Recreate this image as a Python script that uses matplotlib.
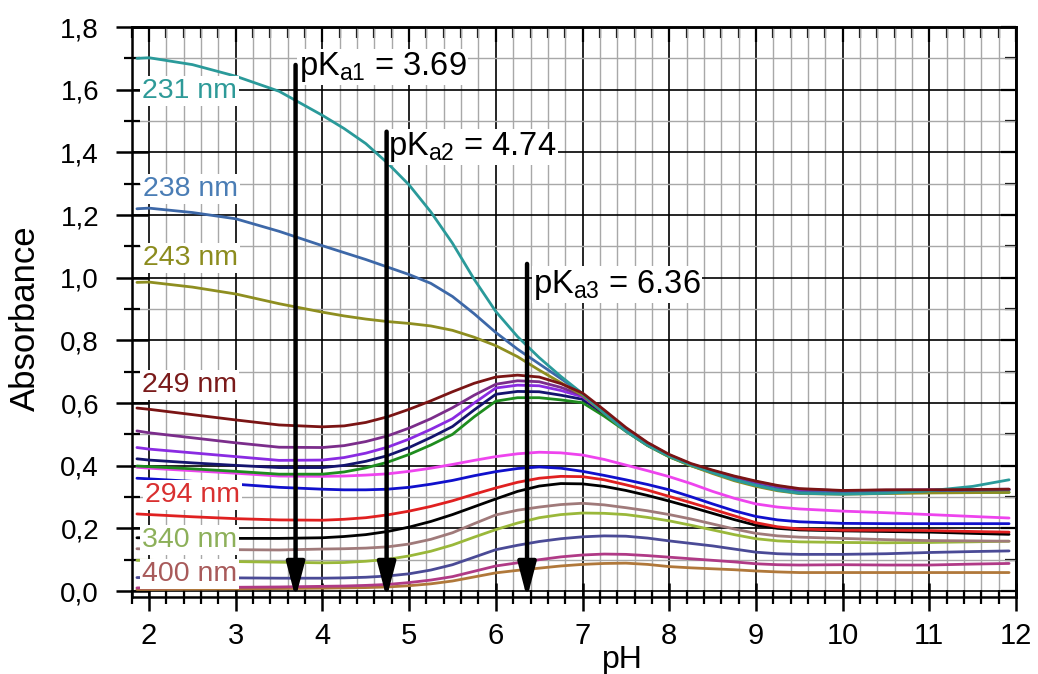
import matplotlib
matplotlib.use("Agg")
import matplotlib.pyplot as plt
from matplotlib.ticker import MultipleLocator, FuncFormatter

# pH values at which the absorbance was sampled
ph = [1.86, 2.0, 2.5, 3.0, 3.5, 4.0, 4.25, 4.5, 4.75, 5.0, 5.25, 5.5, 5.75, 6.0, 6.25, 6.5, 6.75,
      7.0, 7.25, 7.5, 7.75, 8.0, 8.25, 8.5, 8.75, 9.0, 9.25, 9.5, 10.0, 10.5, 11.0, 11.5, 11.92]

# absorbance at each wavelength (top to bottom)
a231 = [1.700, 1.702, 1.680, 1.643, 1.595, 1.518, 1.476, 1.428, 1.366, 1.296, 1.210, 1.110, 0.995,
        0.892, 0.812, 0.745, 0.685, 0.630, 0.568, 0.510, 0.465, 0.430, 0.402, 0.378, 0.355, 0.337,
        0.322, 0.312, 0.309, 0.312, 0.320, 0.334, 0.355]
a238 = [1.220, 1.222, 1.208, 1.188, 1.148, 1.102, 1.080, 1.058, 1.034, 1.010, 0.982, 0.940, 0.885,
        0.825, 0.772, 0.725, 0.678, 0.630, 0.570, 0.513, 0.468, 0.432, 0.404, 0.379, 0.357, 0.339,
        0.325, 0.315, 0.313, 0.316, 0.320, 0.322, 0.323]
a243 = [0.985, 0.986, 0.970, 0.948, 0.917, 0.890, 0.878, 0.868, 0.860, 0.854, 0.846, 0.832, 0.810,
        0.783, 0.748, 0.705, 0.665, 0.625, 0.567, 0.510, 0.465, 0.429, 0.400, 0.375, 0.352, 0.334,
        0.320, 0.311, 0.309, 0.311, 0.313, 0.314, 0.315]
a249 = [0.584, 0.580, 0.563, 0.546, 0.530, 0.524, 0.527, 0.538, 0.556, 0.580, 0.607, 0.636, 0.663,
        0.683, 0.689, 0.683, 0.662, 0.632, 0.578, 0.522, 0.474, 0.436, 0.407, 0.386, 0.367, 0.351,
        0.337, 0.327, 0.321, 0.323, 0.323, 0.324, 0.325]
a_purple = [0.511, 0.505, 0.489, 0.473, 0.459, 0.458, 0.464, 0.477, 0.495, 0.520, 0.550, 0.585, 0.625,
            0.660, 0.671, 0.668, 0.650, 0.625, 0.574, 0.519, 0.472, 0.434, 0.405, 0.384, 0.365, 0.349,
            0.335, 0.325, 0.320, 0.322, 0.323, 0.324, 0.325]
a_violet = [0.458, 0.453, 0.441, 0.429, 0.417, 0.418, 0.426, 0.440, 0.459, 0.485, 0.516, 0.550, 0.600,
            0.648, 0.657, 0.655, 0.640, 0.620, 0.571, 0.517, 0.470, 0.433, 0.404, 0.383, 0.364, 0.347,
            0.333, 0.323, 0.319, 0.321, 0.322, 0.323, 0.324]
a_navy = [0.422, 0.418, 0.409, 0.401, 0.394, 0.394, 0.401, 0.414, 0.432, 0.458, 0.490, 0.525, 0.578,
          0.628, 0.637, 0.636, 0.625, 0.612, 0.566, 0.515, 0.468, 0.432, 0.403, 0.382, 0.362, 0.345,
          0.331, 0.321, 0.318, 0.320, 0.321, 0.322, 0.324]
a_green = [0.399, 0.397, 0.390, 0.382, 0.373, 0.373, 0.380, 0.393, 0.411, 0.436, 0.466, 0.500, 0.556,
           0.606, 0.617, 0.617, 0.610, 0.601, 0.558, 0.510, 0.464, 0.428, 0.400, 0.378, 0.358, 0.341,
           0.327, 0.318, 0.315, 0.315, 0.315, 0.315, 0.315]
a_magenta = [0.395, 0.392, 0.384, 0.376, 0.367, 0.366, 0.367, 0.370, 0.374, 0.382, 0.392, 0.404, 0.417,
             0.429, 0.438, 0.443, 0.441, 0.434, 0.420, 0.402, 0.384, 0.365, 0.343, 0.318, 0.296, 0.278,
             0.268, 0.262, 0.255, 0.250, 0.244, 0.238, 0.233]
a_blue = [0.360, 0.358, 0.350, 0.341, 0.331, 0.325, 0.323, 0.323, 0.325, 0.331, 0.341, 0.353, 0.368,
          0.381, 0.391, 0.396, 0.392, 0.382, 0.369, 0.355, 0.340, 0.323, 0.301, 0.278, 0.256, 0.238,
          0.227, 0.221, 0.216, 0.215, 0.215, 0.215, 0.215]
a294 = [0.246, 0.244, 0.237, 0.231, 0.227, 0.226, 0.229, 0.234, 0.243, 0.255, 0.270, 0.288, 0.309,
        0.329, 0.347, 0.360, 0.366, 0.365, 0.355, 0.339, 0.322, 0.302, 0.282, 0.261, 0.240, 0.218,
        0.205, 0.198, 0.194, 0.194, 0.193, 0.190, 0.188]
a_black = [0.170, 0.170, 0.169, 0.168, 0.168, 0.170, 0.174, 0.180, 0.190, 0.204, 0.222, 0.244, 0.269,
           0.294, 0.318, 0.335, 0.343, 0.342, 0.334, 0.321, 0.305, 0.287, 0.268, 0.248, 0.228, 0.210,
           0.200, 0.195, 0.192, 0.190, 0.188, 0.184, 0.181]
a_mauve = [0.135, 0.134, 0.133, 0.132, 0.131, 0.134, 0.135, 0.137, 0.141, 0.150, 0.165, 0.186, 0.215,
           0.243, 0.258, 0.268, 0.276, 0.280, 0.275, 0.266, 0.256, 0.244, 0.230, 0.214, 0.198, 0.184,
           0.176, 0.172, 0.168, 0.164, 0.161, 0.160, 0.159]
a340 = [0.098, 0.098, 0.096, 0.094, 0.092, 0.090, 0.091, 0.095, 0.101, 0.112, 0.127, 0.147, 0.172,
        0.196, 0.217, 0.234, 0.244, 0.249, 0.248, 0.244, 0.235, 0.224, 0.210, 0.195, 0.180, 0.167,
        0.160, 0.157, 0.155, 0.154, 0.155, 0.157, 0.159]
a_slate = [0.043, 0.043, 0.043, 0.042, 0.041, 0.041, 0.042, 0.044, 0.048, 0.055, 0.067, 0.084, 0.108,
           0.132, 0.146, 0.158, 0.167, 0.173, 0.176, 0.175, 0.169, 0.160, 0.152, 0.144, 0.134, 0.124,
           0.119, 0.117, 0.117, 0.119, 0.123, 0.126, 0.128]
a_plum = [0.010, 0.010, 0.011, 0.012, 0.013, 0.015, 0.016, 0.018, 0.021, 0.027, 0.035, 0.046, 0.063,
          0.080, 0.090, 0.100, 0.109, 0.115, 0.118, 0.117, 0.113, 0.108, 0.103, 0.098, 0.093, 0.087,
          0.084, 0.083, 0.084, 0.083, 0.083, 0.086, 0.088]
a400 = [0.005, 0.005, 0.006, 0.007, 0.008, 0.009, 0.010, 0.011, 0.013, 0.017, 0.023, 0.032, 0.045,
        0.058, 0.066, 0.073, 0.080, 0.085, 0.088, 0.089, 0.085, 0.078, 0.074, 0.071, 0.068, 0.064,
        0.061, 0.059, 0.059, 0.059, 0.059, 0.059, 0.059]

series = [a400, a_plum, a_slate, a340, a_mauve, a_black, a294, a_blue, a_magenta,
          a_green, a_navy, a_violet, a_purple, a243, a238, a231, a249]
colors = ["#b0783a", "#b03a86", "#4a4a96", "#9ab83a", "#a07a7a", "#000000", "#e02020", "#1010cc",
          "#ee44ee", "#1e8c1e", "#14146e", "#8a2be2", "#7b2d8b", "#8e8e20", "#3d68a8", "#2a9a9a",
          "#7a1414"]

# wavelength labels
wl_labels = ["231 nm", "238 nm", "243 nm", "249 nm", "294 nm", "340 nm", "400 nm"]
wl_colors = ["#2e9a98", "#4a7db5", "#8c8c1e", "#7a1a1a", "#d93030", "#8db05a", "#a85a5a"]
wl_pos = [(1.915, 1.597), (1.935, 1.283), (1.935, 1.064), (1.915, 0.657),
          (1.955, 0.307), (1.915, 0.164), (1.915, 0.055)]

# acid dissociation constants
pka = [3.69, 4.74, 6.36]
arrow_tops = [1.679, 1.466, 1.044]
text_pos = [(3.725, 1.647), (4.76, 1.392), (6.43, 0.952)]

NARROW = ["Liberation Sans Narrow", "Liberation Sans", "DejaVu Sans"]
REGULAR = ["Liberation Sans", "DejaVu Sans"]
plt.rcParams["font.family"] = REGULAR
plt.rcParams["mathtext.fontset"] = "custom"
plt.rcParams["mathtext.rm"] = "Liberation Sans"

fig = plt.figure(figsize=(10.38, 6.74), dpi=100)
ax = fig.add_axes([0.1269, 0.1138, 0.8519, 0.8461])

for y, c in zip(series, colors):
    ax.plot(ph, y, color=c, lw=2.0, solid_joinstyle="round", solid_capstyle="round", zorder=3)

ax.set_xlim(1.8, 12.0)
ax.set_ylim(-0.02, 1.8)

ax.xaxis.set_major_locator(MultipleLocator(1))
ax.xaxis.set_minor_locator(MultipleLocator(0.2))
ax.yaxis.set_major_locator(MultipleLocator(0.2))
ax.yaxis.set_minor_locator(MultipleLocator(0.1))
ax.yaxis.set_major_formatter(FuncFormatter(lambda v, p: f"{v:.1f}".replace(".", ",")))

ax.set_axisbelow(True)
ax.grid(which="major", color="black", lw=1.2)
ax.grid(which="minor", color="#a8a8a8", lw=1.0)

for s in ax.spines.values():
    s.set_linewidth(1.8)

ax.tick_params(axis="x", which="major", direction="inout", length=20, width=1.8,
               pad=8, labelsize=21)
ax.tick_params(axis="x", which="minor", direction="inout", length=10, width=1.6)
ax.tick_params(axis="y", which="major", direction="inout", length=23, width=1.8,
               pad=12, labelsize=20)
ax.tick_params(axis="y", which="minor", direction="inout", length=11, width=1.6)
for lab in ax.get_xticklabels():
    lab.set_family(NARROW)

# inward ticks on the top and right edges
top = ax.secondary_xaxis("top")
top.xaxis.set_major_locator(MultipleLocator(1))
top.xaxis.set_minor_locator(MultipleLocator(0.2))
top.tick_params(which="major", direction="in", length=11, width=1.6, labeltop=False)
top.tick_params(which="minor", direction="in", length=8, width=1.6)
right = ax.secondary_yaxis("right")
right.yaxis.set_major_locator(MultipleLocator(0.2))
right.yaxis.set_minor_locator(MultipleLocator(0.1))
right.tick_params(which="major", direction="in", length=11, width=1.6, labelright=False)
right.tick_params(which="minor", direction="in", length=8, width=1.6)
for sec in (top, right):
    for s in sec.spines.values():
        s.set_linewidth(1.8)

ax.set_xlabel("pH", fontsize=23, family=REGULAR)
ax.xaxis.set_label_coords(0.5545, -0.083)
ax.set_ylabel("Absorbance", fontsize=25, family=NARROW)
ax.yaxis.set_label_coords(-0.1014, 0.49)

for txt, c, (x, y) in zip(wl_labels, wl_colors, wl_pos):
    ax.text(x, y, txt, color=c, fontsize=20.5, ha="left", va="center", zorder=5,
            bbox=dict(facecolor="white", edgecolor="none", pad=1.5))

for i, (v, top_y, (tx, ty)) in enumerate(zip(pka, arrow_tops, text_pos)):
    ax.annotate("", xy=(v, -0.022), xytext=(v, top_y), annotation_clip=False,
                arrowprops=dict(arrowstyle="-|>,head_length=2.1,head_width=0.55",
                                lw=3.2, color="black", shrinkA=0, shrinkB=0,
                                mutation_scale=10),
                zorder=6)
    ax.text(tx, ty, rf"pK$_{{\mathregular{{a{i + 1}}}}}$ = {v:.2f}", fontsize=23.5,
            ha="left", va="baseline", zorder=5,
            bbox=dict(facecolor="white", edgecolor="none", pad=1.0))

fig.savefig("out.png", dpi=100)
